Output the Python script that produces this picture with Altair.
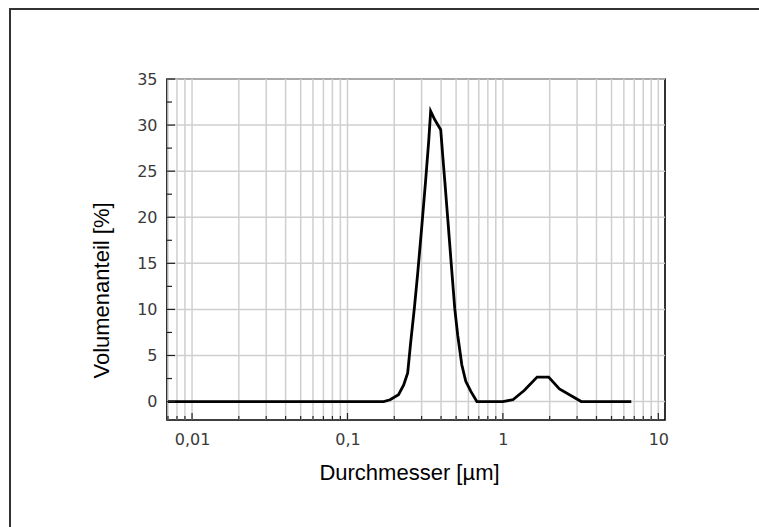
import altair as alt
import pandas as pd

# Particle size distribution (volume-weighted)
diameter_um = [0.007, 0.171, 0.188, 0.213, 0.230, 0.244, 0.255, 0.270, 0.283, 0.300,
               0.318, 0.333, 0.343, 0.364, 0.398, 0.410, 0.423, 0.442, 0.462, 0.490,
               0.512, 0.544, 0.577, 0.622, 0.680, 1.0, 1.16, 1.37, 1.66, 1.97, 2.31,
               3.19, 6.7]
volume_pct = [0, 0, 0.2, 0.75, 1.8, 3.1, 6.4, 10.3, 13.9, 18.8,
              23.9, 28.2, 31.5, 30.6, 29.5, 26.7, 23.9, 19.8, 15.6, 10.1,
              7.2, 4.0, 2.2, 1.1, 0, 0, 0.2, 1.2, 2.65, 2.65, 1.37,
              0, 0]

x_label_values = [0.01, 0.1, 1, 10]
x_grid_values = [m * d for d in [0.001, 0.01, 0.1, 1] for m in range(1, 10)
                 if 0.0069 <= m * d <= 11] + [10]
x_minor_ticks = [v for v in x_grid_values if v not in x_label_values]
y_label_values = [0, 5, 10, 15, 20, 25, 30, 35]
y_minor_ticks = [2.5, 7.5, 12.5, 17.5, 22.5, 27.5, 32.5]

W, H = 498, 341
x_scale = alt.Scale(type="log", domain=[0.0069, 11.04], nice=False)
y_scale = alt.Scale(domain=[-2, 35], nice=False, zero=False)

x_axis = alt.Axis(values=x_label_values, title="Durchmesser [µm]",
                  labelExpr="replace(toString(datum.value), '.', ',')",
                  grid=False, domain=False, ticks=False,
                  labelPadding=11, titleY=59, titleX=242,
                  titleBaseline="alphabetic")
y_axis = alt.Axis(values=y_label_values, title="Volumenanteil [%]",
                  grid=False, domain=False, ticks=False,
                  labelPadding=10, titleX=-59, titleY=211,
                  titleBaseline="alphabetic")

curve = pd.DataFrame({"d": diameter_um, "v": volume_pct})
grid_df = pd.DataFrame({"d": x_grid_values})
xmin = pd.DataFrame({"d": x_minor_ticks})
xmaj = pd.DataFrame({"d": x_label_values})
ymaj = pd.DataFrame({"v": y_label_values})
ymin = pd.DataFrame({"v": y_minor_ticks})
one = pd.DataFrame({"k": [0]})

grid_color = "#cfcfcf"

vgrid = alt.Chart(grid_df).mark_rule(color=grid_color, strokeWidth=1.5).encode(
    x=alt.X("d:Q", scale=x_scale, axis=x_axis),
    y=alt.value(0), y2=alt.value(H))
hgrid = alt.Chart(ymaj).mark_rule(color=grid_color, strokeWidth=1.5).encode(
    y=alt.Y("v:Q", scale=y_scale, axis=y_axis),
    x=alt.value(0), x2=alt.value(W))

line = alt.Chart(curve).mark_line(color="black", strokeWidth=2.8).encode(
    x=alt.X("d:Q", scale=x_scale, axis=x_axis),
    y=alt.Y("v:Q", scale=y_scale, axis=y_axis),
)

tick_color = "#222222"
xmaj_ticks = alt.Chart(xmaj).mark_rule(color=tick_color, strokeWidth=1.2).encode(
    x=alt.X("d:Q", scale=x_scale, axis=x_axis),
    y=alt.value(H), y2=alt.value(H - 7))
xmin_ticks = alt.Chart(xmin).mark_rule(color=tick_color, strokeWidth=1.2).encode(
    x=alt.X("d:Q", scale=x_scale, axis=x_axis),
    y=alt.value(H), y2=alt.value(H - 4))
ymaj_ticks = alt.Chart(ymaj).mark_rule(color=tick_color, strokeWidth=1.2).encode(
    y=alt.Y("v:Q", scale=y_scale, axis=y_axis),
    x=alt.value(0), x2=alt.value(8))
ymin_ticks = alt.Chart(ymin).mark_rule(color=tick_color, strokeWidth=1.2).encode(
    y=alt.Y("v:Q", scale=y_scale, axis=y_axis),
    x=alt.value(0), x2=alt.value(5))

# outer figure frame: thin filled bars along the left and top edges
frame_left = alt.Chart(one).mark_rect(color="#333333").encode(
    x=alt.value(-158), x2=alt.value(-156),
    y=alt.value(-71), y2=alt.value(448))
frame_top = alt.Chart(one).mark_rect(color="#333333").encode(
    x=alt.value(-158), x2=alt.value(592),
    y=alt.value(-71), y2=alt.value(-69))

chart = alt.layer(
    vgrid, hgrid, line, xmaj_ticks, xmin_ticks, ymaj_ticks, ymin_ticks,
    frame_left, frame_top
).properties(
    width=W, height=H,
    autosize=alt.AutoSizeParams(type="none"),
    padding={"left": 167, "top": 79, "right": 94, "bottom": 107},
    background="white",
).configure_view(
    stroke="black", strokeWidth=1.6
).configure_axis(
    labelFont="DejaVu Sans", labelFontSize=16, labelColor="#3a3a3a",
    titleFont="Liberation Sans", titleFontSize=22, titleFontWeight="normal",
    titleColor="black",
)

chart.save("out.html", embed_options={"renderer": "svg", "actions": False})
